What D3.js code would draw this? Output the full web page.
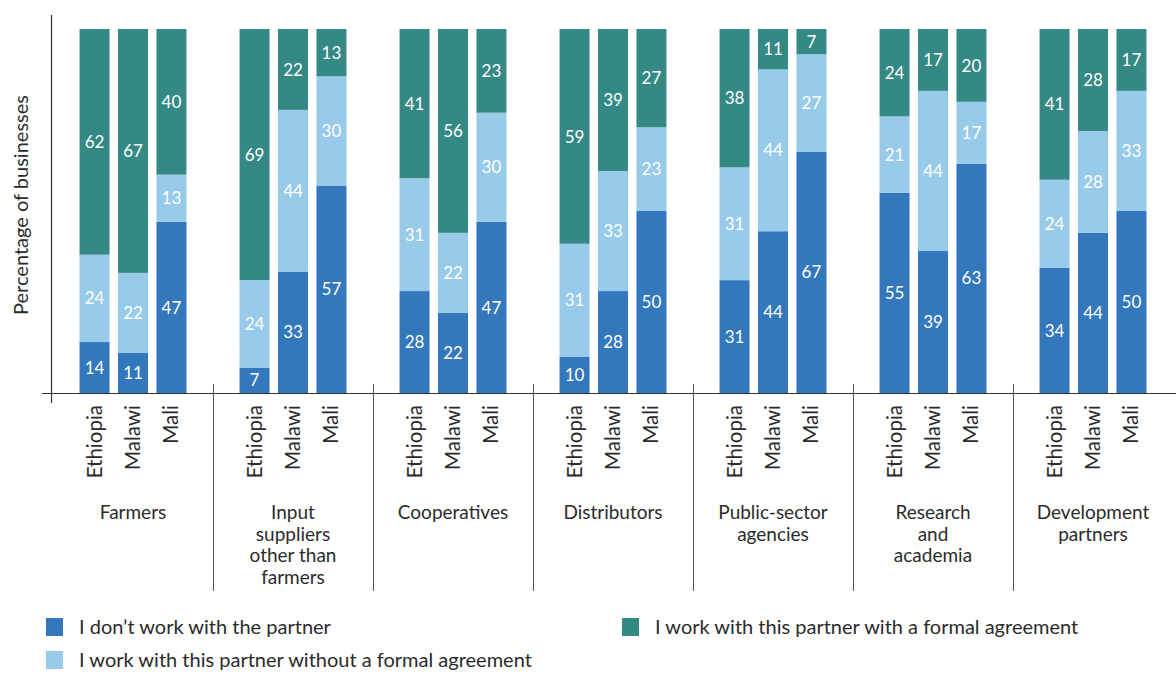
<!DOCTYPE html>
<html>
<head>
  <meta charset="UTF-8">
  <script src="https://cdn.jsdelivr.net/npm/d3@7"></script>
  <style>
    body { margin: 0; background: #fff; }
    text { font-family: Lato, "Noto Sans", sans-serif; fill: #2b2b2b; }
  </style>
</head>
<body>
<script>
  var groups = ["Farmers", "Input suppliers other than farmers", "Cooperatives", "Distributors",
    "Public-sector agencies", "Research and academia", "Development partners"];
  var groupLines = [["Farmers"], ["Input", "suppliers", "other than", "farmers"], ["Cooperatives"],
    ["Distributors"], ["Public-sector", "agencies"], ["Research", "and", "academia"], ["Development", "partners"]];
  var countries = ["Ethiopia", "Malawi", "Mali"];
  var seriesNames = ["I don\u2019t work with the partner",
    "I work with this partner without a formal agreement",
    "I work with this partner with a formal agreement"];
  var colors = ["#3378bd", "#98cbea", "#348985"];

  // values per group, in country order Ethiopia, Malawi, Mali
  var noWork = [[14, 11, 47], [7, 33, 57], [28, 22, 47], [10, 28, 50], [31, 44, 67], [55, 39, 63], [34, 44, 50]];
  var informal = [[24, 22, 13], [24, 44, 30], [31, 22, 30], [31, 33, 23], [31, 44, 27], [21, 44, 17], [24, 28, 33]];
  var formal = [[62, 67, 40], [69, 22, 13], [41, 56, 23], [59, 39, 27], [38, 11, 7], [24, 17, 20], [41, 28, 17]];

  var rows = [];
  groups.forEach(function (g, gi) {
    countries.forEach(function (c, ci) {
      rows.push({group: g, country: c, s0: noWork[gi][ci], s1: informal[gi][ci], s2: formal[gi][ci]});
    });
  });

  var width = 1176, height = 675;
  var svg = d3.select("body").append("svg").attr("width", width).attr("height", height);

  var x0 = d3.scaleBand().domain(groups).range([53, 1173]);
  var x1 = d3.scaleBand().domain(countries).range([0, x0.bandwidth()])
    .paddingInner(0.22).paddingOuter(0.69);
  var y = d3.scaleLinear().domain([0, 1]).range([393, 29]);

  var stack = d3.stack().keys(["s0", "s1", "s2"]).offset(d3.stackOffsetExpand);
  var layers = stack(rows);

  var layer = svg.selectAll(".layer").data(layers).enter().append("g")
    .attr("fill", function (d, i) { return colors[i]; });

  layer.selectAll("rect").data(function (d) { return d; }).enter().append("rect")
    .attr("x", function (d) { return x0(d.data.group) + x1(d.data.country); })
    .attr("width", x1.bandwidth())
    .attr("y", function (d) { return y(d[1]); })
    .attr("height", function (d) { return y(d[0]) - y(d[1]); });

  layers.forEach(function (l) {
    svg.append("g").selectAll("text").data(l).enter().append("text")
      .attr("x", function (d) { return x0(d.data.group) + x1(d.data.country) + x1.bandwidth() / 2; })
      .attr("y", function (d) { return (y(d[0]) + y(d[1])) / 2; })
      .attr("dy", "0.36em")
      .attr("text-anchor", "middle")
      .style("font-size", "17px")
      .style("fill", "#fff")
      .text(function (d) { return d.data[l.key]; });
  });

  // axes
  svg.append("line").attr("x1", 42).attr("x2", width).attr("y1", 393.5).attr("y2", 393.5)
    .attr("stroke", "#333").attr("stroke-width", 1.2);
  svg.append("line").attr("x1", 51.5).attr("x2", 51.5).attr("y1", 15).attr("y2", 403)
    .attr("stroke", "#333").attr("stroke-width", 1.2);

  // group separators
  svg.selectAll(".sep").data(groups.slice(1)).enter().append("line")
    .attr("x1", function (d) { return Math.round(x0(d)) + 0.5; })
    .attr("x2", function (d) { return Math.round(x0(d)) + 0.5; })
    .attr("y1", 384).attr("y2", 591)
    .attr("stroke", "#555").attr("stroke-width", 1);

  // country labels
  rows.forEach(function (r) {
    var cx = x0(r.group) + x1(r.country) + x1.bandwidth() / 2;
    svg.append("text")
      .attr("transform", "translate(" + (cx + 7) + ",405) rotate(-90)")
      .attr("text-anchor", "end")
      .style("font-size", "20.5px")
      .text(r.country);
  });

  // group labels
  groups.forEach(function (g, gi) {
    var t = svg.append("text")
      .attr("x", x0(g) + x0.bandwidth() / 2)
      .attr("y", 519)
      .attr("text-anchor", "middle")
      .style("font-size", "19px");
    groupLines[gi].forEach(function (line, li) {
      t.append("tspan").attr("x", x0(g) + x0.bandwidth() / 2).attr("dy", li === 0 ? 0 : 21.5).text(line);
    });
  });

  // y axis title
  svg.append("text")
    .attr("transform", "translate(28,205) rotate(-90)")
    .attr("text-anchor", "middle")
    .style("font-size", "20px")
    .text("Percentage of businesses");

  // legend
  var legendPos = [[46, 618], [46, 651], [622, 618]];
  seriesNames.forEach(function (name, i) {
    var g = svg.append("g").attr("transform", "translate(" + legendPos[i][0] + "," + legendPos[i][1] + ")");
    g.append("rect").attr("width", 17).attr("height", 18).attr("fill", colors[i]);
    g.append("text").attr("x", 33).attr("y", 9).attr("dy", "0.36em")
      .style("font-size", "20px").text(name);
  });
</script>
</body>
</html>
